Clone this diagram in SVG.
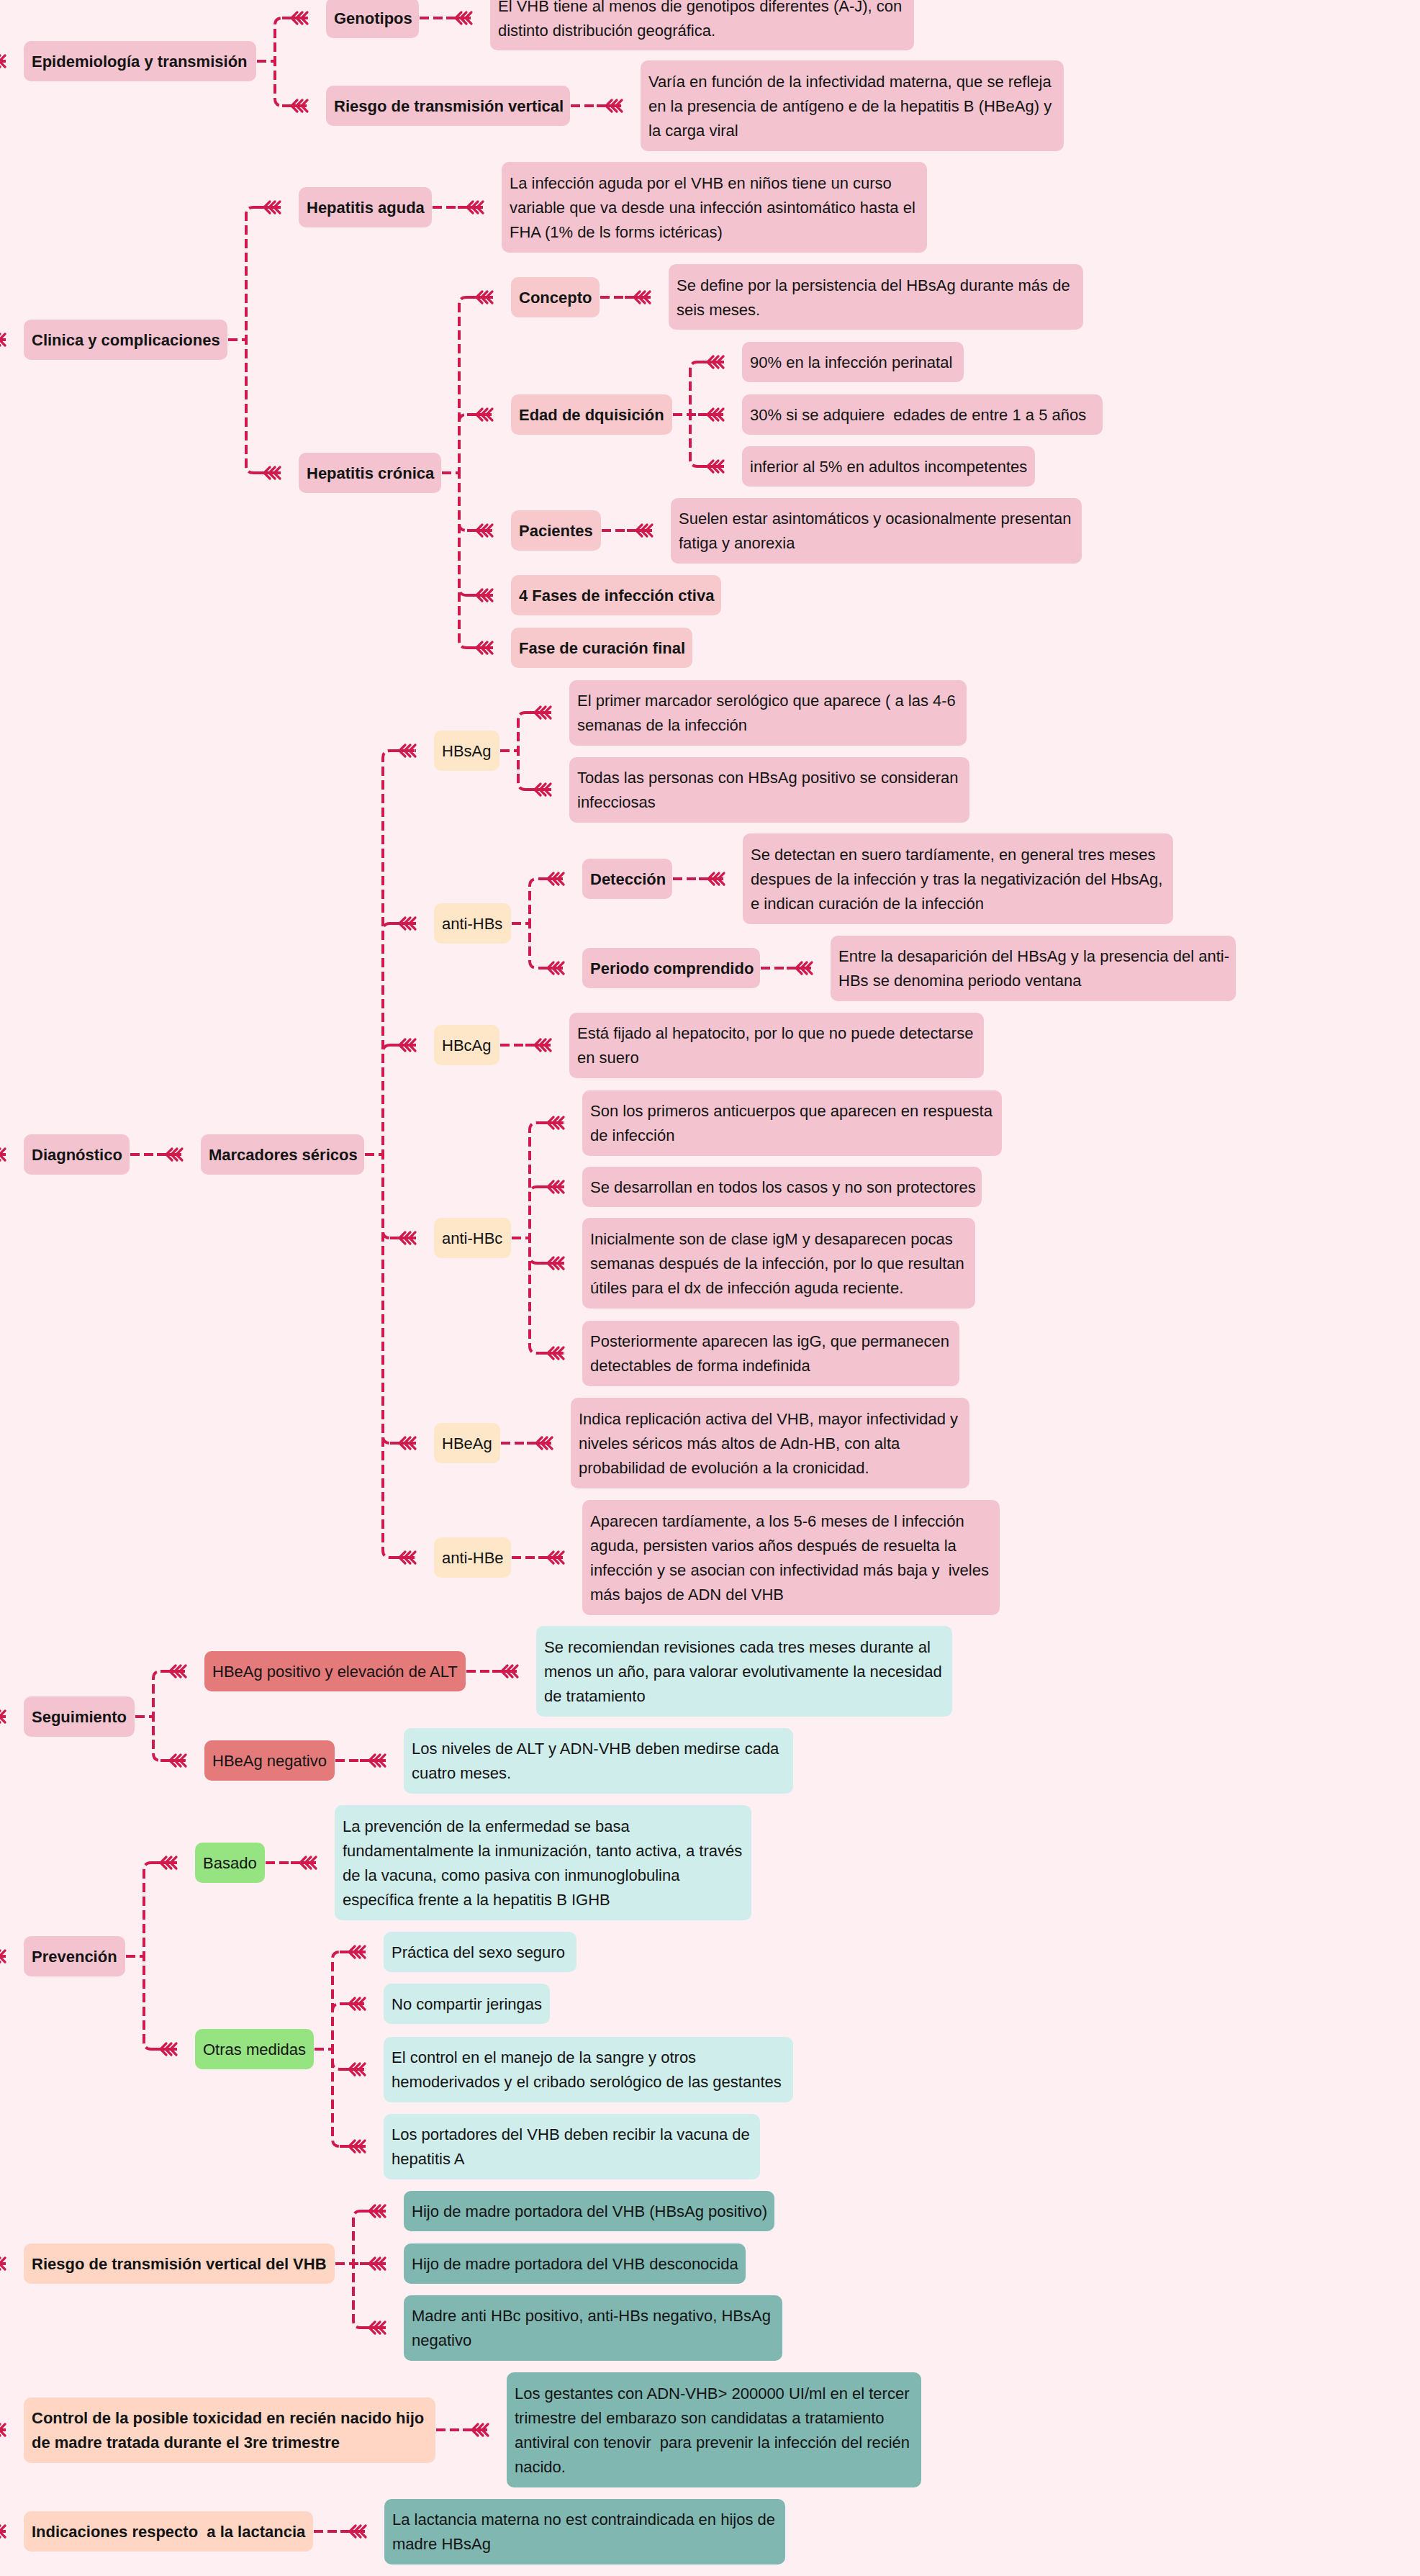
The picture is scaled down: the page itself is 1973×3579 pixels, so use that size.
<svg xmlns="http://www.w3.org/2000/svg" width="1973" height="3579" viewBox="0 0 1973 3579">
<style>
text{font-family:"Liberation Sans",Arial,sans-serif;font-size:22px;fill:#141414;white-space:pre}
.b{font-weight:bold}
.pk{fill:#F3C4CF}
.sp{fill:#F7C9CC}
.cr{fill:#FEE6C8}
.rd{fill:#E57A7B}
.gr{fill:#95E481}
.lt{fill:#CFEDEA}
.tl{fill:#80B7B1}
.pc{fill:#FFD6C4}
.c path{fill:none;stroke:#D01A4D;stroke-width:4;stroke-dasharray:13 6;marker-end:url(#fl)}
</style>
<defs>
<marker id="fl" markerUnits="userSpaceOnUse" markerWidth="44" markerHeight="24" viewBox="-40 -12 44 24" refX="0" refY="0" orient="auto" overflow="visible">
<path d="M-36 0H-2" stroke="#D01A4D" stroke-width="4" fill="none"/>
<path d="M-23 0l8-8M-23 0l8 8M-16 0l8-8M-16 0l8 8M-9 0l8-8M-9 0l8 8" stroke="#D01A4D" stroke-width="3.2" fill="none" stroke-linecap="round"/>
</marker>
</defs>
<rect x="0" y="0" width="1973" height="3579" fill="#FEF0F2"/>
<g id="connectors" class="c">
<path d="M-40 85H8"/><path d="M-40 472H8"/><path d="M-40 1604H8"/><path d="M-40 2385H8"/><path d="M-40 2718H8"/><path d="M-40 3145H8"/><path d="M-40 3376H8"/><path d="M-40 3517H8"/>
<path d="M357 85H382V35Q382 25 392 25H428"/>
<path d="M357 85H382V137Q382 147 392 147H428"/>
<path d="M583 25H656"/>
<path d="M793 147H865"/>
<path d="M317 472H342V298Q342 288 352 288H390"/>
<path d="M317 472H342V647Q342 657 352 657H390"/>
<path d="M601 288H672"/>
<path d="M614 657H638V423Q638 413 648 413H685"/>
<path d="M614 657H638V586Q638 576 648 576H685"/>
<path d="M614 657H638V727Q638 737 648 737H685"/>
<path d="M614 657H638V817Q638 827 648 827H685"/>
<path d="M614 657H638V890Q638 900 648 900H685"/>
<path d="M834 413H904"/>
<path d="M836 737H907"/>
<path d="M935 576H959V513Q959 503 969 503H1006"/>
<path d="M935 576H1006"/>
<path d="M935 576H959V638Q959 648 969 648H1006"/>
<path d="M181 1604H254"/>
<path d="M507 1604H532V1053Q532 1043 542 1043H578"/>
<path d="M507 1604H532V1293Q532 1283 542 1283H578"/>
<path d="M507 1604H532V1462Q532 1452 542 1452H578"/>
<path d="M507 1604H532V1710Q532 1720 542 1720H578"/>
<path d="M507 1604H532V1995Q532 2005 542 2005H578"/>
<path d="M507 1604H532V2154Q532 2164 542 2164H578"/>
<path d="M695 1043H720V1000Q720 990 730 990H766"/>
<path d="M695 1043H720V1087Q720 1097 730 1097H766"/>
<path d="M711 1283H736V1231Q736 1221 746 1221H784"/>
<path d="M711 1283H736V1335Q736 1345 746 1345H784"/>
<path d="M935 1221H1007"/>
<path d="M1057 1345H1129"/>
<path d="M695 1452H766"/>
<path d="M711 1720H736V1570Q736 1560 746 1560H784"/>
<path d="M711 1720H736V1659Q736 1649 746 1649H784"/>
<path d="M711 1720H736V1745Q736 1755 746 1755H784"/>
<path d="M711 1720H736V1870Q736 1880 746 1880H784"/>
<path d="M696 2005H768"/>
<path d="M711 2164H784"/>
<path d="M188 2385H213V2332Q213 2322 223 2322H259"/>
<path d="M188 2385H213V2436Q213 2446 223 2446H259"/>
<path d="M648 2322H720"/>
<path d="M466 2446H536"/>
<path d="M175 2718H200V2598Q200 2588 210 2588H246"/>
<path d="M175 2718H200V2837Q200 2847 210 2847H246"/>
<path d="M369 2588H440"/>
<path d="M437 2847H462V2722Q462 2712 472 2712H508"/>
<path d="M437 2847H462V2794Q462 2784 472 2784H508"/>
<path d="M437 2847H462V2865Q462 2875 472 2875H508"/>
<path d="M437 2847H462V2972Q462 2982 472 2982H508"/>
<path d="M466 3145H491V3082Q491 3072 501 3072H536"/>
<path d="M466 3145H536"/>
<path d="M466 3145H491V3224Q491 3234 501 3234H536"/>
<path d="M606 3376H679"/>
<path d="M436 3517H509"/>
</g>
<g id="n-epi"><rect class="pk" x="33" y="57" width="323" height="56" rx="10"/><text class="b" x="44" y="93">Epidemiología y transmisión</text></g>
<g id="n-geno"><rect class="pk" x="453" y="-3" width="129" height="56" rx="10"/><text class="b" x="464" y="33">Genotipos</text></g>
<g id="n-geno-d"><rect class="pk" x="681" y="-21" width="589" height="91" rx="10"/><text x="692" y="16">El VHB tiene al menos die genotipos diferentes (A-J), con</text><text x="692" y="50">distinto distribución geográfica.</text></g>
<g id="n-rtv"><rect class="pk" x="453" y="119" width="339" height="56" rx="10"/><text class="b" x="464" y="155">Riesgo de transmisión vertical</text></g>
<g id="n-rtv-d"><rect class="pk" x="890" y="84" width="588" height="126" rx="10"/><text x="901" y="121">Varía en función de la infectividad materna, que se refleja</text><text x="901" y="155">en la presencia de antígeno e de la hepatitis B (HBeAg) y</text><text x="901" y="189">la carga viral</text></g>
<g id="n-clin"><rect class="pk" x="33" y="444" width="283" height="56" rx="10"/><text class="b" x="44" y="480">Clinica y complicaciones</text></g>
<g id="n-hag"><rect class="pk" x="415" y="260" width="185" height="56" rx="10"/><text class="b" x="426" y="296">Hepatitis aguda</text></g>
<g id="n-hag-d"><rect class="pk" x="697" y="225" width="591" height="126" rx="10"/><text x="708" y="262">La infección aguda por el VHB en niños tiene un curso</text><text x="708" y="296">variable que va desde una infección asintomático hasta el</text><text x="708" y="330">FHA (1% de ls forms ictéricas)</text></g>
<g id="n-hcr"><rect class="pk" x="415" y="629" width="198" height="56" rx="10"/><text class="b" x="426" y="665">Hepatitis crónica</text></g>
<g id="n-conc"><rect class="sp" x="710" y="385" width="123" height="56" rx="10"/><text class="b" x="721" y="421">Concepto</text></g>
<g id="n-conc-d"><rect class="pk" x="929" y="367" width="576" height="91" rx="10"/><text x="940" y="404">Se define por la persistencia del HBsAg durante más de</text><text x="940" y="438">seis meses.</text></g>
<g id="n-edad"><rect class="sp" x="710" y="548" width="224" height="56" rx="10"/><text class="b" x="721" y="584">Edad de dquisición</text></g>
<g id="n-90"><rect class="pk" x="1031" y="475" width="308" height="56" rx="10"/><text x="1042" y="511">90% en la infección perinatal</text></g>
<g id="n-30"><rect class="pk" x="1031" y="548" width="501" height="56" rx="10"/><text x="1042" y="584">30% si se adquiere  edades de entre 1 a 5 años</text></g>
<g id="n-inf"><rect class="pk" x="1031" y="620" width="407" height="56" rx="10"/><text x="1042" y="656">inferior al 5% en adultos incompetentes</text></g>
<g id="n-pac"><rect class="sp" x="710" y="709" width="125" height="56" rx="10"/><text class="b" x="721" y="745">Pacientes</text></g>
<g id="n-pac-d"><rect class="pk" x="932" y="692" width="571" height="91" rx="10"/><text x="943" y="728">Suelen estar asintomáticos y ocasionalmente presentan</text><text x="943" y="762">fatiga y anorexia</text></g>
<g id="n-f4"><rect class="sp" x="710" y="799" width="292" height="56" rx="10"/><text class="b" x="721" y="835">4 Fases de infección ctiva</text></g>
<g id="n-fcf"><rect class="sp" x="710" y="872" width="252" height="56" rx="10"/><text class="b" x="721" y="908">Fase de curación final</text></g>
<g id="n-diag"><rect class="pk" x="33" y="1576" width="147" height="56" rx="10"/><text class="b" x="44" y="1612">Diagnóstico</text></g>
<g id="n-marc"><rect class="pk" x="279" y="1576" width="227" height="56" rx="10"/><text class="b" x="290" y="1612">Marcadores séricos</text></g>
<g id="n-hbsag"><rect class="cr" x="603" y="1015" width="91" height="56" rx="10"/><text x="614" y="1051">HBsAg</text></g>
<g id="n-hbsag-d1"><rect class="pk" x="791" y="945" width="552" height="91" rx="10"/><text x="802" y="981">El primer marcador serológico que aparece ( a las 4-6</text><text x="802" y="1015">semanas de la infección</text></g>
<g id="n-hbsag-d2"><rect class="pk" x="791" y="1052" width="556" height="91" rx="10"/><text x="802" y="1088">Todas las personas con HBsAg positivo se consideran</text><text x="802" y="1122">infecciosas</text></g>
<g id="n-antihbs"><rect class="cr" x="603" y="1255" width="107" height="56" rx="10"/><text x="614" y="1291">anti-HBs</text></g>
<g id="n-det"><rect class="pk" x="809" y="1193" width="125" height="56" rx="10"/><text class="b" x="820" y="1229">Detección</text></g>
<g id="n-det-d"><rect class="pk" x="1032" y="1158" width="598" height="126" rx="10"/><text x="1043" y="1195">Se detectan en suero tardíamente, en general tres meses</text><text x="1043" y="1229">despues de la infección y tras la negativización del HbsAg,</text><text x="1043" y="1263">e indican curación de la infección</text></g>
<g id="n-per"><rect class="pk" x="809" y="1317" width="247" height="56" rx="10"/><text class="b" x="820" y="1353">Periodo comprendido</text></g>
<g id="n-per-d"><rect class="pk" x="1154" y="1300" width="563" height="91" rx="10"/><text x="1165" y="1336">Entre la desaparición del HBsAg y la presencia del anti-</text><text x="1165" y="1370">HBs se denomina periodo ventana</text></g>
<g id="n-hbcag"><rect class="cr" x="603" y="1424" width="91" height="56" rx="10"/><text x="614" y="1460">HBcAg</text></g>
<g id="n-hbcag-d"><rect class="pk" x="791" y="1407" width="576" height="91" rx="10"/><text x="802" y="1443">Está fijado al hepatocito, por lo que no puede detectarse</text><text x="802" y="1477">en suero</text></g>
<g id="n-antihbc"><rect class="cr" x="603" y="1692" width="107" height="56" rx="10"/><text x="614" y="1728">anti-HBc</text></g>
<g id="n-hbc1"><rect class="pk" x="809" y="1515" width="583" height="91" rx="10"/><text x="820" y="1551">Son los primeros anticuerpos que aparecen en respuesta</text><text x="820" y="1585">de infección</text></g>
<g id="n-hbc2"><rect class="pk" x="809" y="1621" width="555" height="56" rx="10"/><text x="820" y="1657">Se desarrollan en todos los casos y no son protectores</text></g>
<g id="n-hbc3"><rect class="pk" x="809" y="1692" width="546" height="126" rx="10"/><text x="820" y="1729">Inicialmente son de clase igM y desaparecen pocas</text><text x="820" y="1763">semanas después de la infección, por lo que resultan</text><text x="820" y="1797">útiles para el dx de infección aguda reciente.</text></g>
<g id="n-hbc4"><rect class="pk" x="809" y="1835" width="524" height="91" rx="10"/><text x="820" y="1871">Posteriormente aparecen las igG, que permanecen</text><text x="820" y="1905">detectables de forma indefinida</text></g>
<g id="n-hbeag"><rect class="cr" x="603" y="1977" width="92" height="56" rx="10"/><text x="614" y="2013">HBeAg</text></g>
<g id="n-hbeag-d"><rect class="pk" x="793" y="1942" width="554" height="126" rx="10"/><text x="804" y="1979">Indica replicación activa del VHB, mayor infectividad y</text><text x="804" y="2013">niveles séricos más altos de Adn-HB, con alta</text><text x="804" y="2047">probabilidad de evolución a la cronicidad.</text></g>
<g id="n-antihbe"><rect class="cr" x="603" y="2136" width="107" height="56" rx="10"/><text x="614" y="2172">anti-HBe</text></g>
<g id="n-antihbe-d"><rect class="pk" x="809" y="2084" width="580" height="160" rx="10"/><text x="820" y="2121">Aparecen tardíamente, a los 5-6 meses de l infección</text><text x="820" y="2155">aguda, persisten varios años después de resuelta la</text><text x="820" y="2189">infección y se asocian con infectividad más baja y  iveles</text><text x="820" y="2223">más bajos de ADN del VHB</text></g>
<g id="n-seg"><rect class="pk" x="33" y="2357" width="154" height="56" rx="10"/><text class="b" x="44" y="2393">Seguimiento</text></g>
<g id="n-pos"><rect class="rd" x="284" y="2294" width="363" height="56" rx="10"/><text x="295" y="2330">HBeAg positivo y elevación de ALT</text></g>
<g id="n-pos-d"><rect class="lt" x="745" y="2259" width="578" height="126" rx="10"/><text x="756" y="2296">Se recomiendan revisiones cada tres meses durante al</text><text x="756" y="2330">menos un año, para valorar evolutivamente la necesidad</text><text x="756" y="2364">de tratamiento</text></g>
<g id="n-neg"><rect class="rd" x="284" y="2418" width="181" height="56" rx="10"/><text x="295" y="2454">HBeAg negativo</text></g>
<g id="n-neg-d"><rect class="lt" x="561" y="2401" width="541" height="91" rx="10"/><text x="572" y="2437">Los niveles de ALT y ADN-VHB deben medirse cada</text><text x="572" y="2471">cuatro meses.</text></g>
<g id="n-prev"><rect class="pk" x="33" y="2690" width="141" height="56" rx="10"/><text class="b" x="44" y="2726">Prevención</text></g>
<g id="n-bas"><rect class="gr" x="271" y="2560" width="97" height="56" rx="10"/><text x="282" y="2596">Basado</text></g>
<g id="n-bas-d"><rect class="lt" x="465" y="2508" width="579" height="160" rx="10"/><text x="476" y="2545">La prevención de la enfermedad se basa</text><text x="476" y="2579">fundamentalmente la inmunización, tanto activa, a través</text><text x="476" y="2613">de la vacuna, como pasiva con inmunoglobulina</text><text x="476" y="2647">específica frente a la hepatitis B IGHB</text></g>
<g id="n-otr"><rect class="gr" x="271" y="2819" width="165" height="56" rx="10"/><text x="282" y="2855">Otras medidas</text></g>
<g id="n-o1"><rect class="lt" x="533" y="2684" width="268" height="56" rx="10"/><text x="544" y="2720">Práctica del sexo seguro</text></g>
<g id="n-o2"><rect class="lt" x="533" y="2756" width="231" height="56" rx="10"/><text x="544" y="2792">No compartir jeringas</text></g>
<g id="n-o3"><rect class="lt" x="533" y="2830" width="569" height="91" rx="10"/><text x="544" y="2866">El control en el manejo de la sangre y otros</text><text x="544" y="2900">hemoderivados y el cribado serológico de las gestantes</text></g>
<g id="n-o4"><rect class="lt" x="533" y="2937" width="523" height="91" rx="10"/><text x="544" y="2973">Los portadores del VHB deben recibir la vacuna de</text><text x="544" y="3007">hepatitis A</text></g>
<g id="n-rtvv"><rect class="pc" x="33" y="3117" width="432" height="56" rx="10"/><text class="b" x="44" y="3153">Riesgo de transmisión vertical del VHB</text></g>
<g id="n-h1"><rect class="tl" x="561" y="3044" width="515" height="56" rx="10"/><text x="572" y="3080">Hijo de madre portadora del VHB (HBsAg positivo)</text></g>
<g id="n-h2"><rect class="tl" x="561" y="3117" width="475" height="56" rx="10"/><text x="572" y="3153">Hijo de madre portadora del VHB desconocida</text></g>
<g id="n-h3"><rect class="tl" x="561" y="3189" width="526" height="91" rx="10"/><text x="572" y="3225">Madre anti HBc positivo, anti-HBs negativo, HBsAg</text><text x="572" y="3259">negativo</text></g>
<g id="n-ctrl"><rect class="pc" x="33" y="3331" width="572" height="91" rx="10"/><text class="b" x="44" y="3367">Control de la posible toxicidad en recién nacido hijo</text><text class="b" x="44" y="3401">de madre tratada durante el 3re trimestre</text></g>
<g id="n-ctrl-d"><rect class="tl" x="704" y="3296" width="576" height="160" rx="10"/><text x="715" y="3333">Los gestantes con ADN-VHB&gt; 200000 UI/ml en el tercer</text><text x="715" y="3367">trimestre del embarazo son candidatas a tratamiento</text><text x="715" y="3401">antiviral con tenovir  para prevenir la infección del recién</text><text x="715" y="3435">nacido.</text></g>
<g id="n-lact"><rect class="pc" x="33" y="3489" width="402" height="56" rx="10"/><text class="b" x="44" y="3525">Indicaciones respecto  a la lactancia</text></g>
<g id="n-lact-d"><rect class="tl" x="534" y="3472" width="557" height="91" rx="10"/><text x="545" y="3508">La lactancia materna no est contraindicada en hijos de</text><text x="545" y="3542">madre HBsAg</text></g>
</svg>
